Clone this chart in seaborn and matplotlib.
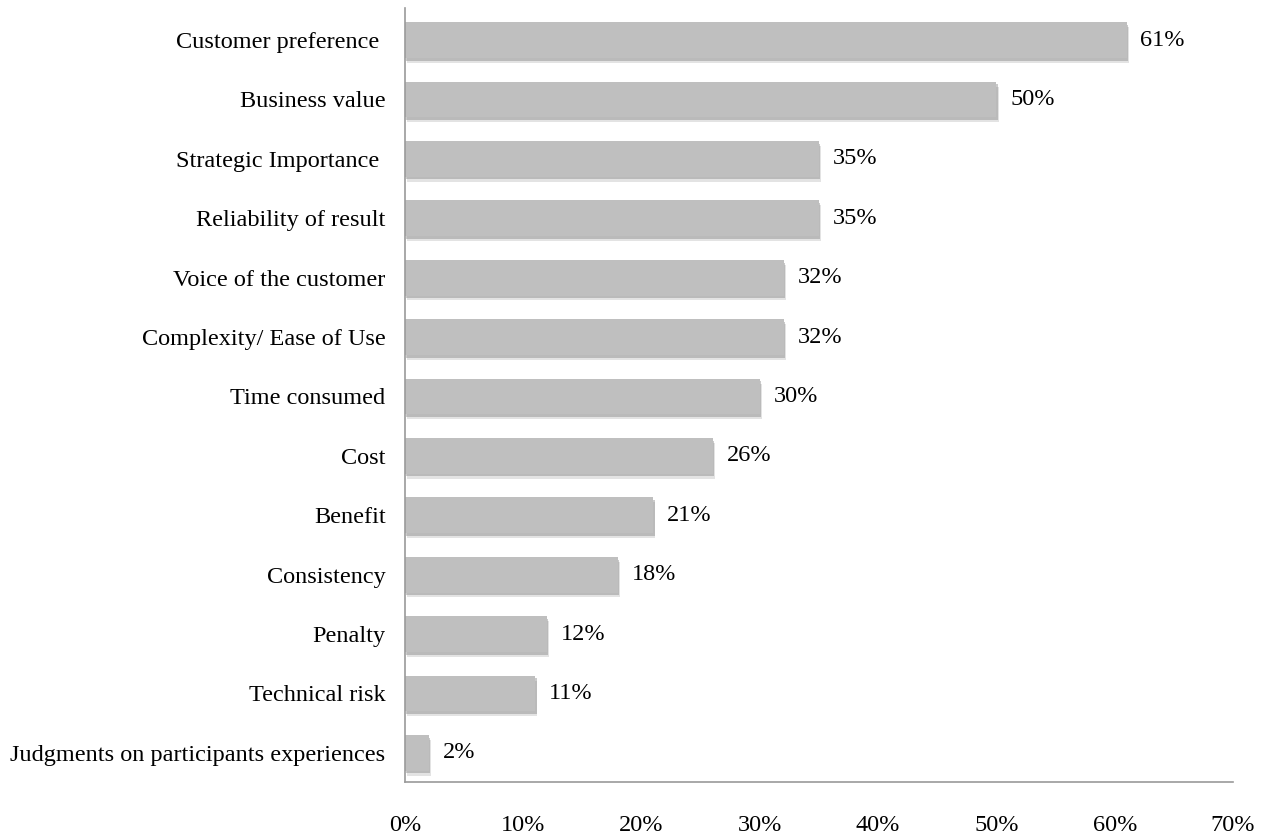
import matplotlib
matplotlib.use("Agg")
import matplotlib.pyplot as plt
import matplotlib.patheffects as pe
from matplotlib.ticker import FuncFormatter
import seaborn as sns
import pandas as pd

categories = [
    "Customer preference ",
    "Business value",
    "Strategic Importance ",
    "Reliability of result",
    "Voice of the customer",
    "Complexity/ Ease of Use",
    "Time consumed",
    "Cost",
    "Benefit",
    "Consistency",
    "Penalty",
    "Technical risk",
    "Judgments on participants experiences",
]
values = [61, 50, 35, 35, 32, 32, 30, 26, 21, 18, 12, 11, 2]
x_ticks = [0, 10, 20, 30, 40, 50, 60, 70]

sns.set_theme(style="white")
plt.rcParams["font.family"] = ["Liberation Serif", "DejaVu Serif"]

df = pd.DataFrame({"factor": categories, "pct": values})

fig = plt.figure(figsize=(12.71, 8.38), dpi=100)
ax = fig.add_axes([405 / 1271, 1 - 782 / 838, (1233 - 405) / 1271, (782 - 8) / 838])

sns.barplot(data=df, y="factor", x="pct", orient="h", color="#BFBFBF",
            saturation=1, width=0.6, ax=ax, edgecolor="none")

for p in ax.patches:
    p.set_path_effects([
        pe.SimplePatchShadow(offset=(1.5, -3.5), shadow_rgbFace="#b0b0b0", alpha=0.35),
        pe.SimplePatchShadow(offset=(1, -2), shadow_rgbFace="#8a8a8a", alpha=0.45),
        pe.Normal()])

for c in ax.containers:
    ax.bar_label(c, labels=[f"{v}%" for v in values], padding=10, fontsize=17.5, color="black")

ax.set_xlim(0, 70)
ax.set_ylim(12.49, -0.54)
ax.set_xticks(x_ticks)
ax.xaxis.set_major_formatter(FuncFormatter(lambda v, _: f"{v:.0f}%"))
ax.set_xlabel("")
ax.set_ylabel("")
ax.tick_params(axis="x", length=0, pad=24, labelsize=17.5, labelcolor="black")
ax.tick_params(axis="y", length=0, pad=14, labelsize=17.5, labelcolor="black")

for s in ["top", "right"]:
    ax.spines[s].set_visible(False)
for s in ["left", "bottom"]:
    ax.spines[s].set_color("#9a9a9a")
    ax.spines[s].set_linewidth(1.2)

fig.savefig("out.png", dpi=100)
